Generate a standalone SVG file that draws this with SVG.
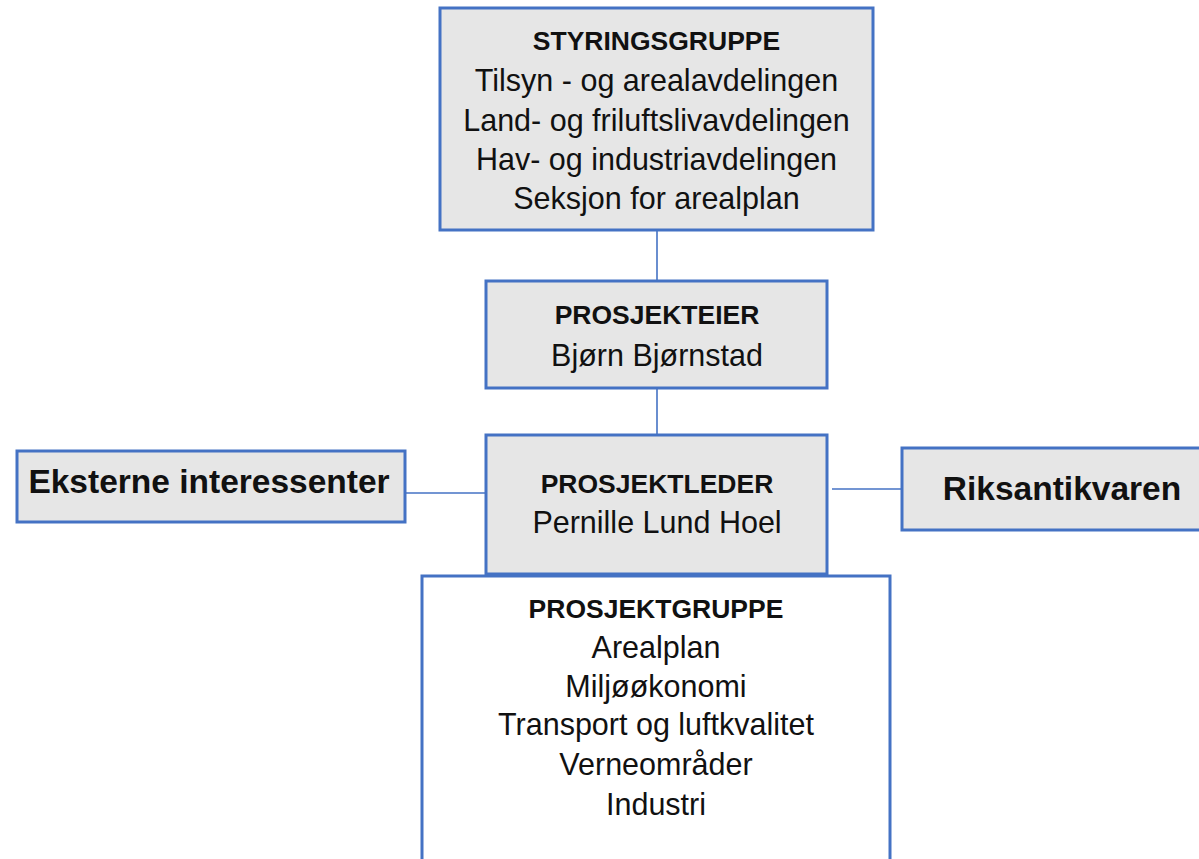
<svg xmlns="http://www.w3.org/2000/svg" width="1199" height="859" viewBox="0 0 1199 859">
<style>
.box{fill:#e6e6e6;stroke:#4472c4;stroke-width:3}
.wbox{fill:#ffffff;stroke:#4472c4;stroke-width:3}
.ln{stroke:#4472c4;stroke-width:1.6;fill:none}
text{font-family:"Liberation Sans",Arial,sans-serif;fill:#111;text-anchor:middle}
.h{font-weight:bold;font-size:26.5px}
.r{font-size:30.5px}
.big{font-weight:bold;font-size:33.5px}
</style>
<rect width="1199" height="859" fill="#ffffff"/>
<g id="connectors">
<line class="ln" x1="657" y1="230" x2="657" y2="281"/>
<line class="ln" x1="657" y1="388" x2="657" y2="435"/>
<line class="ln" x1="405" y1="493" x2="487" y2="493"/>
<line class="ln" x1="832" y1="489" x2="902" y2="489"/>
</g>
<g id="styringsgruppe">
<rect class="box" x="440" y="8" width="433" height="222"/>
<text class="h" x="656.5" y="50">STYRINGSGRUPPE</text>
<text class="r" x="656.5" y="91">Tilsyn - og arealavdelingen</text>
<text class="r" x="656.5" y="131">Land- og friluftslivavdelingen</text>
<text class="r" x="656.5" y="170">Hav- og industriavdelingen</text>
<text class="r" x="656.5" y="209">Seksjon for arealplan</text>
</g>
<g id="prosjekteier">
<rect class="box" x="486" y="281" width="341" height="107"/>
<text class="h" x="657" y="324">PROSJEKTEIER</text>
<text class="r" x="657" y="366">Bjørn Bjørnstad</text>
</g>
<g id="prosjektleder">
<rect class="box" x="486" y="435" width="341" height="139"/>
<text class="h" x="657" y="493">PROSJEKTLEDER</text>
<text class="r" x="657" y="533">Pernille Lund Hoel</text>
</g>
<g id="eksterne">
<rect class="box" x="17" y="451" width="388" height="71"/>
<text class="big" x="209" y="493">Eksterne interessenter</text>
</g>
<g id="riksantikvaren">
<rect class="box" x="902" y="448" width="310" height="82"/>
<text class="big" x="1062" y="500">Riksantikvaren</text>
</g>
<g id="prosjektgruppe">
<rect class="wbox" x="422" y="576" width="468" height="300"/>
<text class="h" x="656" y="618">PROSJEKTGRUPPE</text>
<text class="r" x="656" y="658">Arealplan</text>
<text class="r" x="656" y="697">Miljøøkonomi</text>
<text class="r" x="656" y="735">Transport og luftkvalitet</text>
<text class="r" x="656" y="775">Verneområder</text>
<text class="r" x="656" y="815">Industri</text>
</g>
</svg>
